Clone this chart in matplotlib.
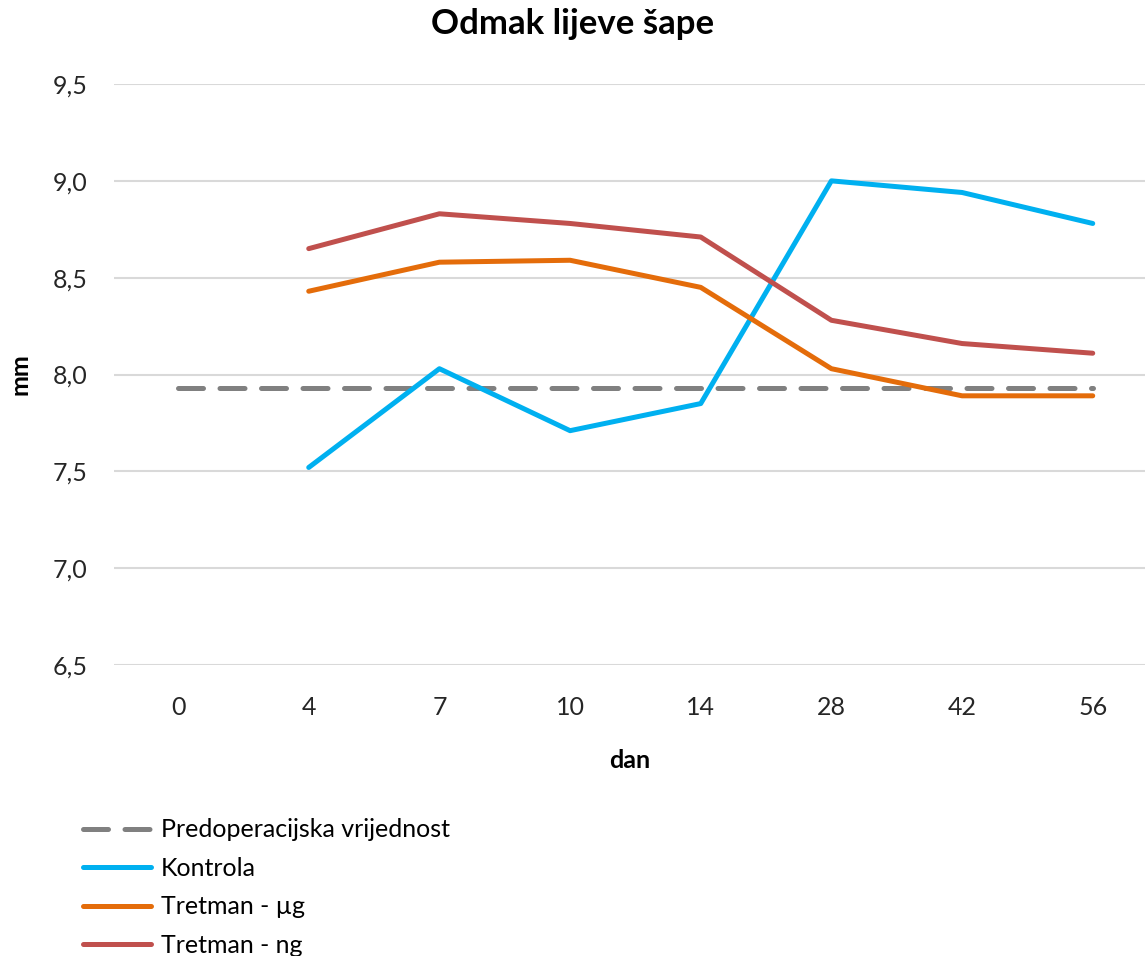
import numpy as np
import matplotlib
matplotlib.use("Agg")
import matplotlib.pyplot as plt

plt.rcParams['font.family'] = ['Lato', 'DejaVu Sans']

#Data
days = ["0", "4", "7", "10", "14", "28", "42", "56"]
predop = [7.93, 7.93, 7.93, 7.93, 7.93, 7.93, 7.93, 7.93]
kontrola = [np.nan, 7.52, 8.03, 7.71, 7.85, 9.00, 8.94, 8.78]
tretman_ug = [np.nan, 8.43, 8.58, 8.59, 8.45, 8.03, 7.89, 7.89]
tretman_ng = [np.nan, 8.65, 8.83, 8.78, 8.71, 8.28, 8.16, 8.11]
yticks = [6.5, 7.0, 7.5, 8.0, 8.5, 9.0, 9.5]

fig = plt.figure(figsize=(11.45, 9.56), dpi=100)
ax = fig.add_axes([0.0996, 0.3044, 0.9004, 0.6077])

x = np.arange(len(days))
lw = 3.6
ln0, = ax.plot(x, predop, color="#808080", lw=lw, dash_capstyle="round",
               solid_capstyle="round", label="Predoperacijska vrijednost")
ln0.set_dashes([5, 3.3])
ax.plot(x, kontrola, color="#00B0F0", lw=lw, solid_capstyle="round", label="Kontrola")
ax.plot(x, tretman_ug, color="#E46C0A", lw=lw, solid_capstyle="round", label="Tretman - µg")
ax.plot(x, tretman_ng, color="#C0504D", lw=lw, solid_capstyle="round", label="Tretman - ng")

ax.set_xlim(-0.49, 7.40)
ax.set_ylim(6.5, 9.5)
ax.set_yticks(yticks)
ax.set_yticklabels([("%.1f" % v).replace(".", ",") for v in yticks])
ax.set_xticks(x)
ax.set_xticklabels(days)
ax.tick_params(axis="both", length=0, labelsize=18, colors="#262626")
ax.tick_params(axis="y", pad=19)
ax.tick_params(axis="x", pad=22)
ax.grid(axis="y", color="#D9D9D9", lw=1.5)
ax.set_axisbelow(True)
for s in ax.spines.values():
    s.set_visible(False)

ax.set_xlabel("dan", fontsize=18, fontweight="bold", labelpad=22)
ax.set_ylabel("mm", fontsize=18, fontweight="bold", labelpad=15)
fig.suptitle("Odmak lijeve šape", fontsize=25, fontweight="bold", x=0.5, y=0.992, va="top")

fig.legend(loc="upper left", bbox_to_anchor=(0.0725, 0.144), frameon=False,
           fontsize=18, handlelength=2.7, handletextpad=0.4,
           labelspacing=0.62, borderaxespad=0, borderpad=0)

fig.savefig("out.png", dpi=100)
